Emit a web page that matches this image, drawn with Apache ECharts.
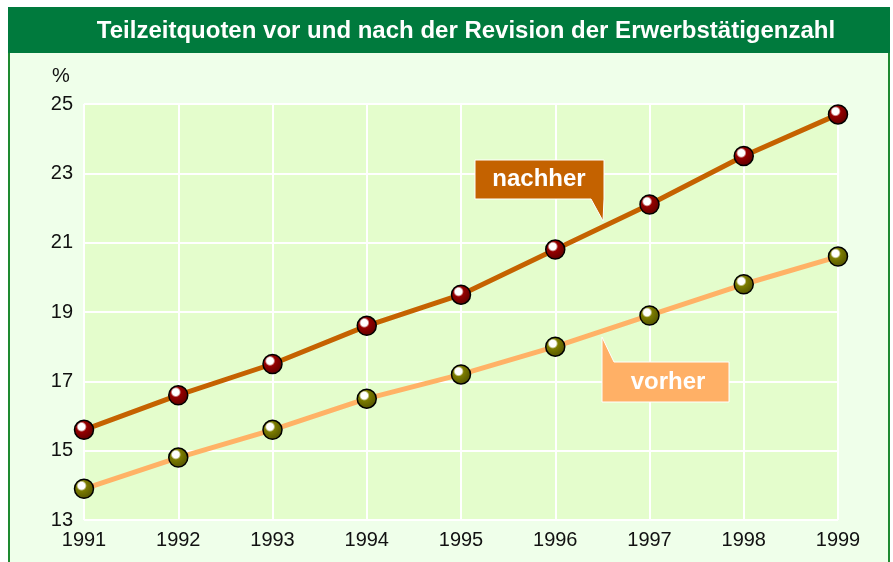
<!DOCTYPE html>
<html><head><meta charset="utf-8">
<script src="https://cdn.jsdelivr.net/npm/echarts@6/dist/echarts.min.js"></script>
<style>html,body{margin:0;padding:0;background:#fff}#c{width:893px;height:562px}</style>
</head><body><div id="c"></div>
<script>
const years = ['1991','1992','1993','1994','1995','1996','1997','1998','1999'];
const nachher = [15.6, 16.6, 17.5, 18.6, 19.5, 20.8, 22.1, 23.5, 24.7];
const vorher = [13.9, 14.8, 15.6, 16.5, 17.2, 18.0, 18.9, 19.8, 20.6];
const titleText = 'Teilzeitquoten vor und nach der Revision der Erwerbstätigenzahl';

const chart = echarts.init(document.getElementById('c'), null, {renderer:'canvas'});
function sphere(mid, dark){
  return new echarts.graphic.RadialGradient(0.38, 0.35, 0.75, [
    {offset:0, color:'#ffffff'},{offset:0.22, color:'#ffffff'},
    {offset:0.34, color:mid},{offset:1, color:dark}]);
}
const font = '"Liberation Sans", Arial, sans-serif';
chart.setOption({
  animation:false,
  textStyle:{fontFamily:font},
  grid:{left:84, right:55, top:104, bottom:42, show:true, backgroundColor:'#E4FDCC', borderColor:'#A8CFC6', borderWidth:1, z:0},
  xAxis:{type:'category', data:years, boundaryGap:false,
    axisLine:{show:false}, axisTick:{show:false},
    axisLabel:{fontSize:20, color:'#111', margin:10, fontFamily:font},
    splitLine:{show:true, lineStyle:{color:'#ffffff', width:2}}},
  yAxis:{type:'value', min:13, max:25, interval:2,
    axisLine:{show:false}, axisTick:{show:false},
    axisLabel:{fontSize:20, color:'#111', margin:11, fontFamily:font},
    splitLine:{show:true, lineStyle:{color:'#ffffff', width:2}}},
  graphic:[
    {type:'rect', z:-10, silent:true, shape:{x:9, y:52, width:880, height:520}, style:{fill:'#EFFFEA', stroke:'#1E8A30', lineWidth:2}},
    {type:'rect', z:-9, silent:true, shape:{x:8, y:7, width:882, height:46}, style:{fill:'#007A3D'}},
    {type:'text', z:-8, silent:true, style:{text:titleText, x:466, y:31, textAlign:'center', textVerticalAlign:'middle', fill:'#fff', font:'bold 24px '+font}},
    {type:'text', silent:true, left:52, top:66, style:{text:'%', fill:'#111', font:'20px '+font}},
    {type:'polygon', z:100, shape:{points:[[475,160],[604,160],[604,199],[603,221],[591,199],[475,199]]}, style:{fill:'#C46200', stroke:'#ffffff', lineWidth:1}},
    {type:'text', z:101, style:{text:'nachher', x:539, y:179, textAlign:'center', textVerticalAlign:'middle', fill:'#fff', font:'bold 24px '+font}},
    {type:'polygon', z:100, shape:{points:[[602,362],[602,337],[614,362],[729,362],[729,402],[602,402]]}, style:{fill:'#FFB066', stroke:'#ffffff', lineWidth:1}},
    {type:'text', z:101, style:{text:'vorher', x:668, y:382, textAlign:'center', textVerticalAlign:'middle', fill:'#fff', font:'bold 24px '+font}}
  ],
  series:[
    {name:'vorher', type:'line', data:vorher, symbol:'circle', symbolSize:19, z:3,
      lineStyle:{color:'#FFB266', width:5},
      itemStyle:{color:sphere('#7C7C00','#4A4A00'), borderColor:'#000', borderWidth:1.5}},
    {name:'nachher', type:'line', data:nachher, symbol:'circle', symbolSize:19, z:4,
      lineStyle:{color:'#C56200', width:5},
      itemStyle:{color:sphere('#960000','#500000'), borderColor:'#000', borderWidth:1.5}}
  ]
});
</script></body></html>
